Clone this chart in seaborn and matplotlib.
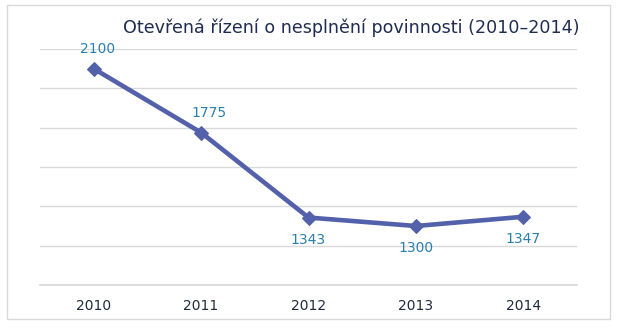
import matplotlib
matplotlib.use("Agg")
import matplotlib.pyplot as plt
import seaborn as sns
import pandas as pd
from matplotlib.patches import Rectangle

years = ["2010", "2011", "2012", "2013", "2014"]
counts = [2100, 1775, 1343, 1300, 1347]
label_above = [True, True, False, False, False]
title = "Otevřená řízení o nesplnění povinnosti (2010–2014)"

sns.set_theme(style="white")
plt.rcParams["font.family"] = ["DejaVu Sans"]

df = pd.DataFrame({"rok": years, "pocet": counts})

W, H = 626, 331
fig = plt.figure(figsize=(W / 100, H / 100), dpi=100)
fig.patch.set_facecolor("white")

# light frame around the whole chart
fig.add_artist(Rectangle((7 / W, 1 - 319 / H), 603 / W, 314 / H,
                         transform=fig.transFigure, fill=False,
                         edgecolor="#d9d9d9", linewidth=1))

ax = fig.add_axes([40 / W, 1 - 285 / H, 537 / W, 236 / H])
line_color = "#5261a9"
sns.lineplot(data=df, x="rok", y="pocet", ax=ax, color=line_color,
             linewidth=3.3, marker="D", markersize=7,
             markeredgecolor=line_color, sort=False)

ax.set_ylim(1000, 2200)
ax.set_yticks(range(1000, 2201, 200))
ax.set_yticklabels([])
ax.tick_params(axis="y", length=0)
ax.set_xlim(-0.5, len(years) - 0.5)
ax.grid(axis="y", color="#d9d9d9", linewidth=1)
ax.set_axisbelow(True)
for s in ["left", "right", "top"]:
    ax.spines[s].set_visible(False)
ax.spines["bottom"].set_color("#d9d9d9")
ax.set_xlabel("")
ax.set_ylabel("")
ax.tick_params(axis="x", length=0, labelsize=10, colors="#1f2a3a", pad=10)

# value labels: above the first two points, below the rest
label_dx = [3, 6, 0, 0, 0]
for i, (v, up, dx) in enumerate(zip(counts, label_above, label_dx)):
    ax.annotate(f"{v}", (i, v), xytext=(dx, 14.4 if up else -16),
                textcoords="offset points", ha="center", va="center",
                color="#2b7fae", fontsize=10)

fig.text(351 / W, 1 - 28 / H, title, ha="center", va="center",
         fontsize=12.65, color="#1f2d50")

fig.savefig("out.png", dpi=100)
